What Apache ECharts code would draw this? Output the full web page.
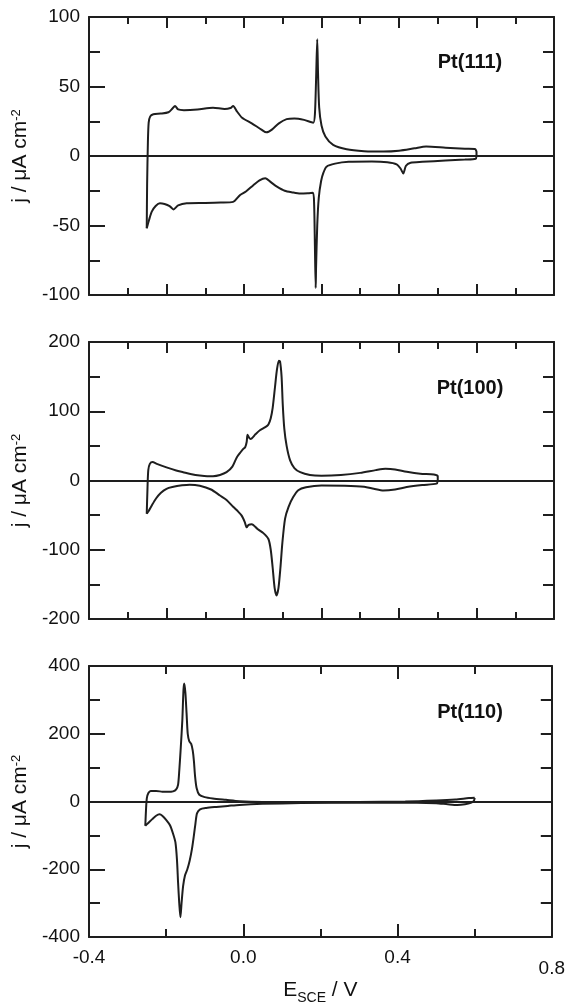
<!DOCTYPE html>
<html><head><meta charset="utf-8">
<script src="https://cdn.jsdelivr.net/npm/echarts@6/dist/echarts.min.js"></script>
<style>html,body{margin:0;padding:0;background:#fff}#c{width:568px;height:1006px}</style>
</head><body><div id="c"></div>
<script>
// ---- data ----
const panelNames = ['Pt(111)', 'Pt(100)', 'Pt(110)'];
const yMin = [-100, -200, -400];
const yMax = [100, 200, 400];
const yStep = [50, 100, 200];
const xMin = -0.4, xMax = 0.8;
const xLabelTicks = [-0.4, 0.0, 0.4, 0.8];

const pt111Up = [[-0.251,-52],[-0.250,-20],[-0.248,10],[-0.246,24],[-0.242,28.5],[-0.234,30],[-0.215,30.5],[-0.195,31.5],[-0.185,34],[-0.178,36],[-0.17,33.5],[-0.155,33],[-0.12,33.5],[-0.08,34.8],[-0.05,33.8],[-0.035,34.5],[-0.028,36],[-0.018,32],[-0.005,27.5],[0.02,23.5],[0.045,19],[0.058,17],[0.072,19],[0.09,23.5],[0.11,26.5],[0.13,27],[0.155,26],[0.172,24.5],[0.179,24],[0.183,30],[0.186,55],[0.189,84],[0.191,60],[0.194,35],[0.2,22],[0.21,14],[0.23,8],[0.265,4.8],[0.31,3.5],[0.36,3.2],[0.4,3.8],[0.44,5.5],[0.47,6.8],[0.52,6],[0.57,5.2],[0.596,5],[0.6,3],[0.6,0]];
const pt111Down = [[0.6,0],[0.598,-2],[0.57,-2.6],[0.52,-3.3],[0.46,-4.2],[0.43,-4.8],[0.418,-7],[0.411,-12.5],[0.404,-9],[0.394,-6],[0.37,-4.5],[0.33,-4],[0.27,-4.2],[0.235,-5.5],[0.213,-7.7],[0.205,-12],[0.199,-18],[0.193,-30],[0.189,-50],[0.186,-80],[0.185,-95],[0.183,-65],[0.181,-35],[0.178,-26.5],[0.165,-26.8],[0.145,-27],[0.125,-26.2],[0.105,-25],[0.085,-22],[0.07,-19],[0.055,-16],[0.04,-17.5],[0.024,-21],[0.005,-25.5],[-0.01,-28],[-0.028,-33],[-0.06,-33.5],[-0.1,-33.8],[-0.148,-34],[-0.17,-35.5],[-0.182,-38.4],[-0.192,-36],[-0.205,-34.5],[-0.217,-34],[-0.228,-36],[-0.238,-40],[-0.245,-46],[-0.251,-52]];

const pt100Up = [[-0.251,-48],[-0.249,-10],[-0.247,15],[-0.243,24],[-0.236,26.6],[-0.225,24],[-0.2,19],[-0.175,14.5],[-0.157,12],[-0.135,9],[-0.114,7.2],[-0.095,6.3],[-0.08,6.3],[-0.062,8],[-0.045,12],[-0.03,20],[-0.019,33],[-0.01,40],[-0.003,45],[0.003,48],[0.007,56],[0.009,66],[0.013,62],[0.017,60],[0.03,67],[0.041,72.5],[0.055,77],[0.063,81],[0.069,90],[0.074,105],[0.08,135],[0.085,160],[0.09,173],[0.093,172],[0.097,150],[0.1,110],[0.104,75],[0.11,50],[0.119,29],[0.13,18],[0.145,12],[0.17,8],[0.2,7],[0.25,8],[0.3,11],[0.34,15],[0.365,17],[0.39,16],[0.42,12.5],[0.455,9.7],[0.49,8.7],[0.5,6],[0.5,0]];
const pt100Down = [[0.5,0],[0.497,-4.5],[0.46,-6.5],[0.42,-9.5],[0.39,-13],[0.36,-14.5],[0.335,-12],[0.31,-9],[0.26,-7.5],[0.2,-7.2],[0.16,-9.7],[0.14,-14],[0.127,-24],[0.115,-38],[0.106,-55],[0.099,-90],[0.094,-126],[0.089,-155],[0.084,-166],[0.079,-155],[0.074,-126],[0.069,-100],[0.063,-84.5],[0.05,-76],[0.035,-70],[0.02,-63],[0.012,-64],[0.007,-67.6],[0.002,-60],[-0.006,-50.7],[-0.015,-45],[-0.028,-38],[-0.045,-28],[-0.062,-21.7],[-0.085,-13],[-0.114,-7.5],[-0.14,-6],[-0.16,-7],[-0.185,-9.5],[-0.2,-12],[-0.215,-18],[-0.227,-26],[-0.238,-36],[-0.246,-44],[-0.251,-48]];

const pt110Up = [[-0.254,-71.5],[-0.252,-20],[-0.25,10],[-0.246,25],[-0.24,31],[-0.226,31],[-0.21,29],[-0.195,28.5],[-0.182,30],[-0.174,36],[-0.169,50],[-0.166,90],[-0.162,160],[-0.158,240],[-0.155,330],[-0.153,348],[-0.15,320],[-0.147,260],[-0.144,200],[-0.14,178],[-0.135,170],[-0.131,150],[-0.128,120],[-0.125,75],[-0.121,40],[-0.114,20],[-0.1,13],[-0.079,9],[-0.045,5],[-0.01,1],[0.05,-1.5],[0.15,-2],[0.3,-1.5],[0.42,0],[0.5,3],[0.55,6],[0.585,10],[0.6,11]];
const pt110Down = [[0.6,11],[0.598,2],[0.59,-4],[0.575,-8],[0.555,-10],[0.53,-8],[0.5,-5],[0.45,-3.5],[0.3,-3.5],[0.15,-4.5],[0.05,-7],[-0.01,-10],[-0.04,-13],[-0.07,-16],[-0.096,-19],[-0.112,-23],[-0.12,-35],[-0.124,-65],[-0.128,-100],[-0.133,-140],[-0.139,-175],[-0.145,-200],[-0.151,-218],[-0.156,-250],[-0.16,-300],[-0.163,-342],[-0.166,-300],[-0.169,-240],[-0.172,-170],[-0.176,-120],[-0.182,-95],[-0.19,-70],[-0.2,-54],[-0.21,-42],[-0.217,-38],[-0.226,-42],[-0.236,-52],[-0.247,-64],[-0.254,-71.5]];

const branches = [[pt111Up, pt111Down], [pt100Up, pt100Down], [pt110Up, pt110Down]];

// ---- layout ----
const FONT = "'Liberation Sans', Arial, Helvetica, sans-serif";
const INK = '#1e1e1e';
const gridTops = [17, 342, 666];
const gridHeights = [278, 277, 276];
const labelY = [62, 388, 712];

const grids = [], xAxes = [], yAxes = [], series = [], graphics = [];
for (let i = 0; i < 3; i++) {
  grids.push({ left: 89, width: 465, top: gridTops[i], height: gridHeights[i] });
  const last = i === 2;
  const xStep = last ? 0.4 : 0.2;
  const majLen = last ? 13 : 11, minLen = last ? 8 : 7;
  const baseX = {
    type: 'value', gridIndex: i, min: xMin, max: xMax, interval: xStep,
    axisLine: { show: true, onZero: false, lineStyle: { color: INK, width: 2 } },
    axisTick: { show: true, inside: true, length: majLen, lineStyle: { color: INK, width: 2 } },
    minorTick: { show: true, splitNumber: 2, length: minLen, lineStyle: { color: INK, width: 2 } },
    splitLine: { show: false }, minorSplitLine: { show: false }
  };
  xAxes.push(Object.assign({}, baseX, {
    position: 'bottom',
    axisLabel: last ? {
      show: true, margin: 11, color: '#111', fontSize: 19, fontFamily: FONT,
      formatter: v => {
        const s = (Math.abs(v) < 1e-9 ? 0 : v).toFixed(1);
        return Math.abs(v - xLabelTicks[3]) < 1e-6 ? '{low|' + s + '}' : s;
      },
      rich: { low: { fontSize: 19, fontFamily: FONT, color: '#111', padding: [11, 0, 0, 0] } }
    } : { show: false },
    name: last ? '{m|E}{s|SCE}{m| / V}' : '',
    nameLocation: 'middle', nameGap: 43,
    nameTextStyle: {
      rich: {
        m: { fontSize: 21, fontFamily: FONT, color: '#111' },
        s: { fontSize: 14, fontFamily: FONT, color: '#111', verticalAlign: 'bottom', padding: [0, 0, -4, 0] }
      }
    }
  }));
  xAxes.push(Object.assign({}, baseX, { position: 'top', axisLabel: { show: false } }));

  yAxes.push({
    type: 'value', gridIndex: i, position: 'left', min: yMin[i], max: yMax[i], interval: yStep[i],
    axisLine: { show: true, onZero: false, lineStyle: { color: INK, width: 2 } },
    axisTick: { show: true, inside: true, length: 16, lineStyle: { color: INK, width: 2 } },
    minorTick: { show: true, splitNumber: 2, length: 11, lineStyle: { color: INK, width: 2 } },
    splitLine: { show: false }, minorSplitLine: { show: false },
    axisLabel: { show: true, margin: 9, color: '#111', fontSize: 19, fontFamily: FONT },
    name: '{a|j / μA cm}{b|-2}', nameLocation: 'middle', nameRotate: 90, nameGap: 56,
    nameTextStyle: {
      rich: {
        a: { fontSize: 21, fontFamily: FONT, color: '#111' },
        b: { fontSize: 13, fontFamily: FONT, color: '#111', verticalAlign: 'top' }
      }
    }
  });
  yAxes.push({
    type: 'value', gridIndex: i, position: 'right', min: yMin[i], max: yMax[i], interval: yStep[i] / 2,
    axisLine: { show: true, onZero: false, lineStyle: { color: INK, width: 2 } },
    axisTick: { show: true, inside: true, length: 11, lineStyle: { color: INK, width: 2 } },
    axisLabel: { show: false }, splitLine: { show: false }
  });

  branches[i].forEach((data, k) => {
    const s = {
      type: 'line', xAxisIndex: 2 * i, yAxisIndex: 2 * i, data: data,
      showSymbol: false, symbol: 'none', smooth: 0.25, animation: false,
      lineStyle: { color: INK, width: 2 }, z: 3
    };
    if (k === 0) {
      s.markLine = {
        silent: true, symbol: 'none', animation: false, label: { show: false },
        lineStyle: { color: INK, width: 1.8, type: 'solid' },
        data: [{ yAxis: 0 }]
      };
    }
    series.push(s);
  });

  graphics.push({
    type: 'text', x: 470, y: labelY[i],
    style: { text: panelNames[i], fontSize: 20, fontWeight: 'bold', fontFamily: FONT, fill: '#111', align: 'center', verticalAlign: 'middle' }
  });
}

const chart = echarts.init(document.getElementById('c'), null, { renderer: 'canvas' });
chart.setOption({
  animation: false,
  backgroundColor: '#fff',
  grid: grids, xAxis: xAxes, yAxis: yAxes, series: series, graphic: graphics
});
</script></body></html>
